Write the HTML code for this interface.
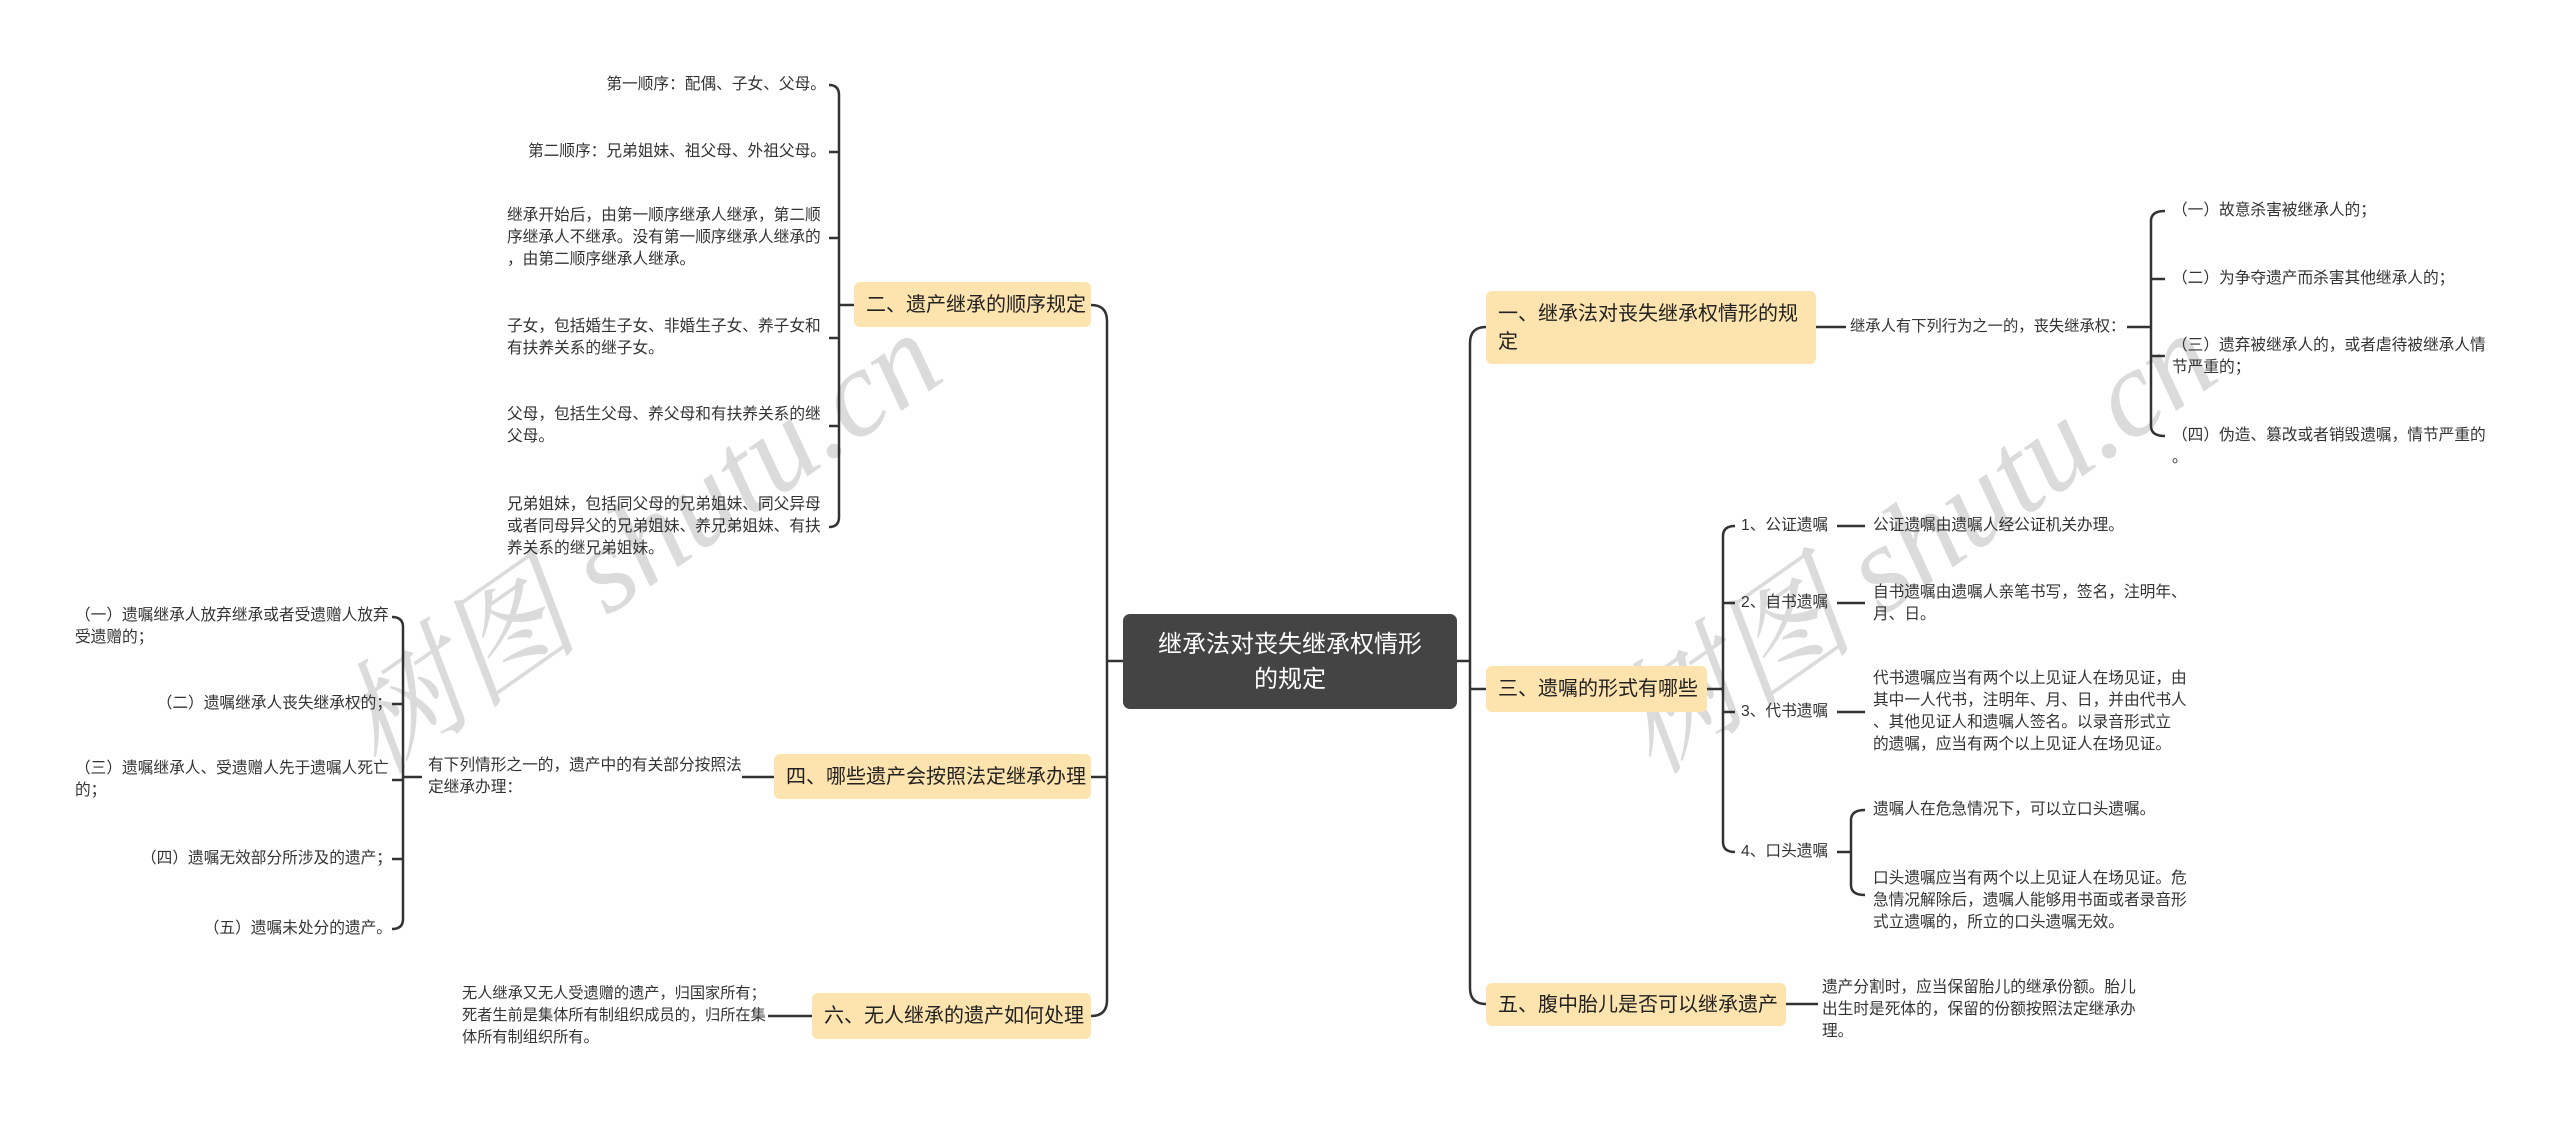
<!DOCTYPE html>
<html><head><meta charset="utf-8"><style>
*{margin:0;padding:0;box-sizing:border-box}
body{width:2560px;height:1122px;background:#fff;position:relative;overflow:hidden;font-family:"Liberation Sans","Noto Sans CJK SC",sans-serif;color:#333}
.t{position:absolute;font-size:15.7px;line-height:22px;white-space:nowrap;color:#333}
.r{text-align:right}
.n{position:absolute;background:#fde3ad;border-radius:6px;font-size:20px;line-height:30px;color:#222;padding:0 12px;display:flex;align-items:center;white-space:nowrap}
.wm{position:absolute;font-family:"Liberation Serif","Noto Serif CJK SC",serif;font-style:italic;font-size:124px;color:rgba(190,190,190,0.55);white-space:nowrap;transform:rotate(-35deg);transform-origin:center}
</style></head><body>
<div class="wm" style="left:285px;top:445px">树图 shutu.cn</div>
<div class="wm" style="left:1560px;top:445px">树图 shutu.cn</div>

<svg width="2560" height="1122" style="position:absolute;left:0;top:0" fill="none" stroke="#333" stroke-width="2.5">
<path d="M1091,305 Q1107,305 1107,321 L1107,1000 Q1107,1016 1091,1016 M1107,777 L1091,777 M1107,661 L1123,661"/>
<path d="M829,85 Q839,85 839,95 L839,517 Q839,527 829,527 M839,152 L829,152 M839,238 L829,238 M839,338 L829,338 M839,426 L829,426 M839,305 L854,305"/>
<path d="M742,777 L774,777"/>
<path d="M392,617 Q403,617 403,627 L403,919 Q403,929 392,929 M403,704 L392,704 M403,780 L392,780 M403,859 L392,859 M403,777 L422,777"/>
<path d="M768,1016 L812,1016"/>
<path d="M1486,327 Q1470,327 1470,343 L1470,988 Q1470,1004 1486,1004 M1470,689 L1486,689 M1457,661 L1470,661"/>
<path d="M1816,327 L1846,327 M2127,327 L2151,327"/>
<path d="M2165,211 Q2151,211 2151,221 L2151,426 Q2151,436 2165,436 M2151,279 L2165,279 M2151,356 L2165,356"/>
<path d="M1707,689 L1723,689"/>
<path d="M1735,526 Q1723,526 1723,536 L1723,842 Q1723,852 1735,852 M1723,603 L1735,603 M1723,712 L1735,712"/>
<path d="M1837,526 L1865,526 M1837,603 L1865,603 M1837,712 L1865,712 M1837,852 L1851,852"/>
<path d="M1865,810 Q1851,810 1851,820 L1851,885 Q1851,895 1865,895"/>
<path d="M1786,1004 L1818,1004"/>
</svg>

<div style="position:absolute;left:1123px;top:614px;width:334px;height:95px;background:#444;border-radius:7px;color:#fff;font-size:24px;line-height:35px;text-align:center;display:flex;align-items:center;justify-content:center">继承法对丧失继承权情形<br>的规定</div>

<div class="n" style="left:854px;top:282px;width:237px;height:45px">二、遗产继承的顺序规定</div>
<div class="n" style="left:774px;top:754px;width:317px;height:45px">四、哪些遗产会按照法定继承办理</div>
<div class="n" style="left:812px;top:993px;width:279px;height:46px">六、无人继承的遗产如何处理</div>

<div class="t r" style="right:1734px;top:74px">第一顺序：配偶、子女、父母。</div>
<div class="t r" style="right:1734px;top:141px">第二顺序：兄弟姐妹、祖父母、外祖父母。</div>
<div class="t" style="left:507px;top:205px">继承开始后，由第一顺序继承人继承，第二顺<br>序继承人不继承。没有第一顺序继承人继承的<br>，由第二顺序继承人继承。</div>
<div class="t" style="left:507px;top:316px">子女，包括婚生子女、非婚生子女、养子女和<br>有扶养关系的继子女。</div>
<div class="t" style="left:507px;top:404px">父母，包括生父母、养父母和有扶养关系的继<br>父母。</div>
<div class="t" style="left:507px;top:494px">兄弟姐妹，包括同父母的兄弟姐妹、同父异母<br>或者同母异父的兄弟姐妹、养兄弟姐妹、有扶<br>养关系的继兄弟姐妹。</div>

<div class="t" style="left:428px;top:755px">有下列情形之一的，遗产中的有关部分按照法<br>定继承办理：</div>
<div class="t" style="left:75px;top:605px">（一）遗嘱继承人放弃继承或者受遗赠人放弃<br>受遗赠的；</div>
<div class="t r" style="right:2168px;top:693px">（二）遗嘱继承人丧失继承权的；</div>
<div class="t" style="left:75px;top:758px">（三）遗嘱继承人、受遗赠人先于遗嘱人死亡<br>的；</div>
<div class="t r" style="right:2168px;top:848px">（四）遗嘱无效部分所涉及的遗产；</div>
<div class="t r" style="right:2168px;top:918px">（五）遗嘱未处分的遗产。</div>

<div class="t" style="left:462px;top:983px;font-size:15.2px">无人继承又无人受遗赠的遗产，归国家所有；<br>死者生前是集体所有制组织成员的，归所在集<br>体所有制组织所有。</div>

<div class="n" style="left:1486px;top:291px;width:330px;height:73px;white-space:normal;line-height:28px">一、继承法对丧失继承权情形的规定</div>
<div class="n" style="left:1486px;top:666px;width:221px;height:46px">三、遗嘱的形式有哪些</div>
<div class="n" style="left:1486px;top:983px;width:300px;height:43px">五、腹中胎儿是否可以继承遗产</div>

<div class="t" style="left:1850px;top:316px;font-size:15.3px">继承人有下列行为之一的，丧失继承权：</div>
<div class="t" style="left:2172px;top:200px">（一）故意杀害被继承人的；</div>
<div class="t" style="left:2172px;top:268px">（二）为争夺遗产而杀害其他继承人的；</div>
<div class="t" style="left:2172px;top:335px">（三）遗弃被继承人的，或者虐待被继承人情<br>节严重的；</div>
<div class="t" style="left:2172px;top:425px">（四）伪造、篡改或者销毁遗嘱，情节严重的<br>。</div>

<div class="t" style="left:1741px;top:515px">1、公证遗嘱</div>
<div class="t" style="left:1741px;top:592px">2、自书遗嘱</div>
<div class="t" style="left:1741px;top:701px">3、代书遗嘱</div>
<div class="t" style="left:1741px;top:841px">4、口头遗嘱</div>
<div class="t" style="left:1873px;top:515px">公证遗嘱由遗嘱人经公证机关办理。</div>
<div class="t" style="left:1873px;top:582px">自书遗嘱由遗嘱人亲笔书写，签名，注明年、<br>月、日。</div>
<div class="t" style="left:1873px;top:668px">代书遗嘱应当有两个以上见证人在场见证，由<br>其中一人代书，注明年、月、日，并由代书人<br>、其他见证人和遗嘱人签名。以录音形式立<br>的遗嘱，应当有两个以上见证人在场见证。</div>
<div class="t" style="left:1873px;top:799px">遗嘱人在危急情况下，可以立口头遗嘱。</div>
<div class="t" style="left:1873px;top:868px">口头遗嘱应当有两个以上见证人在场见证。危<br>急情况解除后，遗嘱人能够用书面或者录音形<br>式立遗嘱的，所立的口头遗嘱无效。</div>

<div class="t" style="left:1822px;top:977px">遗产分割时，应当保留胎儿的继承份额。胎儿<br>出生时是死体的，保留的份额按照法定继承办<br>理。</div>
</body></html>
